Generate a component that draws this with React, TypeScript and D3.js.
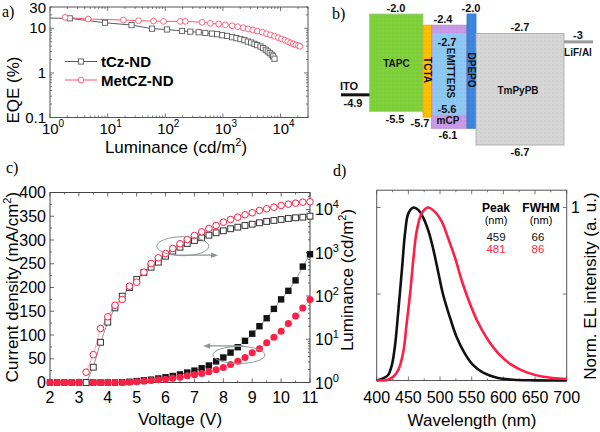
import React from 'react';
import * as d3 from 'd3';

const FONT = "'Liberation Sans', Arial, sans-serif";
const SERIF = "'Liberation Serif', 'Times New Roman', serif";

// ---------------- Panel a: EQE vs luminance ----------------
const tczLum = [0.8, 2.2, 9.0, 26, 59, 107, 195, 272, 380, 496, 647, 793, 969, 1183, 1445, 1718, 2016, 2365, 2700, 3093, 3530, 3935, 4490, 5000, 5550, 6010, 6510, 7060, 7470, 7870];
const tczEQE = [17.0, 16.7, 13.3, 11.8, 9.8, 9.4, 8.7, 8.4, 8.15, 7.85, 7.6, 7.36, 6.99, 6.74, 6.31, 6.0, 5.7, 5.41, 5.04, 4.79, 4.48, 4.19, 3.9, 3.59, 3.29, 3.02, 2.78, 2.55, 2.34, 2.08];
const metLum = [1.82, 4.6, 18.8, 34.3, 62.6, 93.3, 182, 223, 435, 606, 845, 1105, 1445, 1808, 2244, 2740, 3300, 3935, 4810, 5710, 6700, 7870, 9120, 10400, 11880, 13400, 14930, 16630, 18450, 20320, 21680];
const metEQE = [17.6, 16.1, 15.3, 14.8, 14.5, 14.3, 14.3, 14.3, 13.6, 12.9, 12.5, 12.0, 11.4, 10.9, 10.3, 9.65, 9.17, 8.7, 8.15, 7.59, 7.1, 6.64, 6.18, 5.78, 5.41, 5.04, 4.71, 4.45, 4.25, 4.1, 3.95];
const seriesNames = ['tCz-ND', 'MetCZ-ND'];
const eqeTickLabels = ['0.1', '1', '10', '30'];
const eqeTickValues = [0.1, 1, 10, 30];

// ---------------- Panel b: energy levels ----------------
const layerNames = ['TAPC', 'TCTA', 'mCP', 'EMITTERS', 'DPEPO', 'TmPyPB'];
const layerLUMO = [-2.0, -2.4, -2.4, -2.7, -2.0, -2.7];
const layerHOMO = [-5.5, -5.7, -6.1, -5.6, -6.1, -6.7];
const electrodeNames = ['ITO', 'LiF/Al'];
const electrodeLevels = [-4.9, -3.0];

// ---------------- Panel c: J-V-L ----------------
const voltJ = [2, 2.25, 2.5, 2.75, 3, 3.25, 3.5, 3.75, 4, 4.25, 4.5, 4.75, 5, 5.25, 5.5, 5.75, 6, 6.25, 6.5, 6.75, 7, 7.25, 7.5, 7.75, 8, 8.25, 8.5, 8.75, 9, 9.25, 9.5, 9.75, 10, 10.25, 10.5, 10.75, 11];
const tczJ = [0, 0, 0, 0, 0, 0, 0, 0, 0, 0, 0.5, 1.5, 3, 4.5, 6, 8.5, 11, 13.7, 17, 21, 25, 30, 35.8, 44.5, 52.7, 63, 74.3, 87.7, 102.7, 118.5, 135.3, 155, 175, 193, 215, 244, 270];
const metJ = [0, 0, 0, 0, 0, 0, 0, 0, 0, 0, 0, 0.5, 1.5, 2.8, 4.4, 5.7, 6.9, 9.1, 11.2, 14.1, 16.2, 18.9, 22.5, 26.7, 31.6, 37.9, 44.8, 52.6, 62.5, 70.9, 83.6, 95.4, 108, 124, 140, 157, 175];
const voltL = [3.25, 3.5, 3.75, 4, 4.25, 4.5, 4.75, 5, 5.25, 5.5, 5.75, 6, 6.25, 6.5, 6.75, 7, 7.25, 7.5, 7.75, 8, 8.25, 8.5, 8.75, 9, 9.25, 9.5, 9.75, 10, 10.25, 10.5, 10.75, 11];
const tczL = [1.0, 2.26, 8.5, 24.8, 53, 99, 157, 241, 349, 463, 605, 832, 1086, 1344, 1636, 1920, 2218, 2546, 2891, 3220, 3580, 3900, 4266, 4570, 4925, 5280, 5570, 5870, 6190, 6430, 6640, 7000];
const metL = [1.73, 4.4, 17.7, 33, 61, 83, 169, 208, 355, 564, 764, 961, 1254, 1610, 2025, 2505, 3050, 3637, 4266, 5085, 5870, 6640, 7540, 8390, 9480, 10380, 11300, 12370, 13270, 14000, 14760, 15070];
const jTicks = [0, 50, 100, 150, 200, 250, 300, 350, 400];
const vTicks = [2, 3, 4, 5, 6, 7, 8, 9, 10, 11];

// ---------------- Panel d: EL spectra ----------------
const tczWl = [400, 410, 418, 424, 429, 434, 440, 445, 450, 458, 466, 474, 482, 489, 497, 505, 516, 526, 539, 552, 568, 590, 616, 650, 700];
const tczEL = [0, 0.012, 0.032, 0.09, 0.205, 0.397, 0.648, 0.86, 0.966, 1.0, 0.985, 0.937, 0.86, 0.764, 0.629, 0.494, 0.36, 0.253, 0.157, 0.09, 0.045, 0.016, 0.004, 0.001, 0];
const metWl = [400, 416, 426, 434, 442, 447, 453, 458, 463, 471, 481, 492, 503, 513, 524, 534, 545, 558, 574, 592, 613, 637, 663, 700];
const metEL = [0, 0.003, 0.022, 0.06, 0.166, 0.32, 0.513, 0.706, 0.86, 0.966, 1.0, 0.975, 0.917, 0.82, 0.706, 0.581, 0.465, 0.35, 0.244, 0.157, 0.09, 0.047, 0.022, 0.009];
const wlTicks = [400, 450, 500, 550, 600, 650, 700];
const peakValues = ['459', '481'];
const fwhmValues = ['66', '86'];

const BLACK_A = '#5a5a5a';
const RED_A = '#ff5570';
const RED = '#ff1f45';

function logMinor(lo: number, hi: number) {
  const out: number[] = [];
  for (let d = Math.pow(10, Math.floor(Math.log10(lo))); d <= hi; d *= 10) {
    for (let k = 1; k <= 9; k++) {
      const v = k * d;
      if (v >= lo * 0.999 && v <= hi * 1.001) out.push(v);
    }
  }
  return out;
}

function PanelA() {
  const x = d3.scaleLog().domain([1, 30000]).range([50, 308]);
  const y = d3.scaleLog().domain([0.1, 30]).range([117.5, 7]);
  const line = d3.line<number[]>().x(d => x(d[0])).y(d => y(d[1]));
  const blk = tczLum.map((l, i) => [l, tczEQE[i]]);
  const red = metLum.map((l, i) => [l, metEQE[i]]);
  const xMin = logMinor(1, 30000);
  const yMin = logMinor(0.1, 30);
  const [x0, x1] = x.range();
  const [y0, y1] = y.range();
  return (
    <g fontFamily={FONT}>
      <defs>
        <clipPath id="clipA"><rect x={x0} y={y1} width={x1 - x0} height={y0 - y1} /></clipPath>
      </defs>
      {xMin.map((v, i) => {
        const major = Math.abs(Math.log10(v) - Math.round(Math.log10(v))) < 1e-6;
        const len = major ? 4 : 2;
        return (
          <g key={'xa' + i} stroke="#555" strokeWidth={0.8}>
            <line x1={x(v)} x2={x(v)} y1={y0} y2={y0 - len} />
            <line x1={x(v)} x2={x(v)} y1={y1} y2={y1 + len} />
          </g>
        );
      })}
      {yMin.map((v, i) => {
        const major = Math.abs(Math.log10(v) - Math.round(Math.log10(v))) < 1e-6;
        const len = major ? 4 : 2;
        return (
          <g key={'ya' + i} stroke="#555" strokeWidth={0.8}>
            <line x1={x0} x2={x0 + len} y1={y(v)} y2={y(v)} />
            <line x1={x1} x2={x1 - len} y1={y(v)} y2={y(v)} />
          </g>
        );
      })}
      <rect x={x0} y={y1} width={x1 - x0} height={y0 - y1} fill="none" stroke="#555" strokeWidth={1} />
      <g clipPath="url(#clipA)">
        <path d={line(blk) || ''} fill="none" stroke={BLACK_A} strokeWidth={1} />
        <path d={line(red) || ''} fill="none" stroke={RED_A} strokeWidth={1} />
        {blk.filter(d => d[0] >= 1).map((d, i) => (
          <rect key={'bs' + i} x={x(d[0]) - 2.6} y={y(d[1]) - 2.6} width={5.2} height={5.2} fill="white" stroke={BLACK_A} strokeWidth={0.9} />
        ))}
        {red.map((d, i) => (
          <circle key={'rc' + i} cx={x(d[0])} cy={y(d[1])} r={2.9} fill="white" stroke={RED_A} strokeWidth={0.9} />
        ))}
      </g>
      {/* legend */}
      <line x1={65} x2={97} y1={61.5} y2={61.5} stroke={BLACK_A} strokeWidth={1} />
      <rect x={81 - 2.6} y={61.5 - 2.6} width={5.2} height={5.2} fill="white" stroke={BLACK_A} strokeWidth={0.9} />
      <text x={101} y={67} fontSize={15} fontWeight="bold">{seriesNames[0]}</text>
      <line x1={65} x2={97} y1={80} y2={80} stroke={RED_A} strokeWidth={1} />
      <circle cx={81} cy={80} r={2.9} fill="white" stroke={RED_A} strokeWidth={0.9} />
      <text x={101} y={85.5} fontSize={15} fontWeight="bold">{seriesNames[1]}</text>
      {/* tick labels */}
      {eqeTickValues.map((v, i) => (
        <text key={'yl' + i} x={46} y={Math.max(y(v) + 5, 13)} fontSize={15} textAnchor="end">{eqeTickLabels[i]}</text>
      ))}
      {[0, 1, 2, 3, 4].map(e => (
        <text key={'xl' + e} x={x(Math.pow(10, e)) + 3} y={134} fontSize={15} textAnchor="middle">
          10<tspan dy={-7} fontSize={10}>{e}</tspan>
        </text>
      ))}
      <text x={176} y={153} fontSize={17} textAnchor="middle">
        Luminance (cd/m<tspan dy={-7} fontSize={11}>2</tspan><tspan dy={7}>)</tspan>
      </text>
      <text transform="translate(19,90) rotate(-90)" fontSize={17} textAnchor="middle">EQE (%)</text>
      <text x={2} y={17} fontSize={16} fontFamily={SERIF}>a)</text>
    </g>
  );
}

function PanelB() {
  const e = d3.scaleLinear().domain([-2.0, -6.7]).range([14, 145]);
  // horizontal layout of the stacked layers (pixel columns)
  const cols = [[369.5, 423], [423, 431.5], [431.5, 467], [433, 466], [467, 476], [476, 564]];
  const fills = ['#7fd13b', '#ffc000', '#c99ae8', '#8ec9f3', '#3d86e0', '#d6d6d6'];
  const strokes = ['#a9c9a0', '#e0a800', '#b58ad0', '#8ec9f3', '#2f6fc4', '#a6a6a6'];
  const ez = [[341, 369.5], [564, 593]];
  const nm = (i: number) => layerNames[i];
  const lbl = (v: number) => v.toFixed(1);
  return (
    <g fontFamily={FONT} fontWeight="bold">
      <defs>
        <pattern id="dots" width="4" height="4" patternUnits="userSpaceOnUse">
          <circle cx="1" cy="1" r="0.45" fill="rgba(0,0,0,0.18)" />
        </pattern>
      </defs>
      {cols.map((c, i) => (
        <g key={'L' + i}>
          <rect x={c[0]} y={e(layerLUMO[i])} width={c[1] - c[0]} height={e(layerHOMO[i]) - e(layerLUMO[i])} fill={fills[i]} stroke={strokes[i]} strokeWidth={0.8} />
          <rect x={c[0]} y={e(layerLUMO[i])} width={c[1] - c[0]} height={e(layerHOMO[i]) - e(layerLUMO[i])} fill="url(#dots)" />
        </g>
      ))}
      <line x1={ez[0][0]} x2={ez[0][1]} y1={e(electrodeLevels[0])} y2={e(electrodeLevels[0])} stroke="#111" strokeWidth={3} />
      <line x1={ez[1][0]} x2={ez[1][1]} y1={e(electrodeLevels[1])} y2={e(electrodeLevels[1])} stroke="#9a9a9a" strokeWidth={3} />
      <g fontSize={11} fill="#111" textAnchor="middle">
        <text x={396} y={e(layerLUMO[0]) - 2}>{lbl(layerLUMO[0])}</text>
        <text x={395} y={e(layerHOMO[0]) + 11}>{lbl(layerHOMO[0])}</text>
        <text x={443} y={e(layerLUMO[1]) - 2}>{lbl(layerLUMO[1])}</text>
        <text x={420} y={e(layerHOMO[1]) + 10}>{lbl(layerHOMO[1])}</text>
        <text x={447} y={e(layerLUMO[3]) + 12}>{lbl(layerLUMO[3])}</text>
        <text x={447} y={e(layerHOMO[3]) - 1}>{lbl(layerHOMO[3])}</text>
        <text x={448} y={e(layerHOMO[2]) + 11}>{lbl(layerHOMO[2])}</text>
        <text x={471} y={e(layerLUMO[4]) - 2}>{lbl(layerLUMO[4])}</text>
        <text x={520} y={e(layerLUMO[5]) - 3}>{lbl(layerLUMO[5])}</text>
        <text x={520} y={e(layerHOMO[5]) + 11}>{lbl(layerHOMO[5])}</text>
        <text x={353} y={e(electrodeLevels[0]) + 12}>{lbl(electrodeLevels[0])}</text>
        <text x={578} y={e(electrodeLevels[1]) - 3}>{String(electrodeLevels[1])}</text>
      </g>
      <g fontSize={10} fill="#111" textAnchor="middle">
        <text x={396.5} y={67}>{nm(0)}</text>
        <text x={448} y={e(layerHOMO[2]) - 4}>{nm(2)}</text>
        <text x={518} y={94}>{nm(5)}</text>
        <text x={349} y={e(electrodeLevels[0]) - 5} fontSize={11}>{electrodeNames[0]}</text>
        <text x={578} y={e(electrodeLevels[1]) + 14}>{electrodeNames[1]}</text>
        <text transform={`translate(${423.5},70) rotate(90)`}>{nm(1)}</text>
        <text transform={`translate(${446.5},73) rotate(90)`}>{nm(3)}</text>
        <text transform={`translate(${468},70) rotate(90)`}>{nm(4)}</text>
      </g>
      <text x={332} y={19} fontSize={16} fontFamily={SERIF} fontWeight="normal">b)</text>
    </g>
  );
}

function Arrow({ x1, x2, y }: { x1: number; x2: number; y: number }) {
  const dir = x2 > x1 ? 1 : -1;
  return (
    <g>
      <line x1={x1} x2={x2 - dir * 5} y1={y} y2={y} stroke="#8a9898" strokeWidth={1.3} />
      <path d={`M${x2},${y} L${x2 - dir * 7},${y - 2.8} L${x2 - dir * 7},${y + 2.8} Z`} fill="#8a9898" />
    </g>
  );
}

function PanelC() {
  const x = d3.scaleLinear().domain([2, 11]).range([50, 310]);
  const yJ = d3.scaleLinear().domain([0, 400]).range([382.5, 192.5]);
  const yL = d3.scaleLog().domain([1, 24700]).range([382.5, 192.5]);
  const [x0, x1] = x.range();
  const [y0, y1] = yJ.range();
  const lineJ = d3.line<number[]>().x(d => x(d[0])).y(d => yJ(d[1]));
  const lineL = d3.line<number[]>().x(d => x(d[0])).y(d => yL(d[1]));
  const bJ = voltJ.map((v, i) => [v, tczJ[i]]);
  const rJ = voltJ.map((v, i) => [v, metJ[i]]);
  const bL = voltL.map((v, i) => [v, tczL[i]]);
  const rL = voltL.map((v, i) => [v, metL[i]]);
  const vMinor: number[] = [];
  for (let v = 2; v <= 11.001; v += 0.5) vMinor.push(v);
  const jMinor: number[] = [];
  for (let j = 0; j <= 400; j += 25) jMinor.push(j);
  const lMinor = logMinor(1, 24000);
  return (
    <g fontFamily={FONT}>
      {vMinor.map((v, i) => {
        const len = Math.abs(v - Math.round(v)) < 1e-6 ? 4 : 2;
        return (
          <g key={'vc' + i} stroke="#444" strokeWidth={0.8}>
            <line x1={x(v)} x2={x(v)} y1={y0} y2={y0 - len} />
            <line x1={x(v)} x2={x(v)} y1={y1} y2={y1 + len} />
          </g>
        );
      })}
      {jMinor.map((j, i) => (
        <line key={'jc' + i} x1={x0} x2={x0 + (j % 50 === 0 ? 4 : 2)} y1={yJ(j)} y2={yJ(j)} stroke="#444" strokeWidth={0.8} />
      ))}
      {lMinor.map((l, i) => {
        const major = Math.abs(Math.log10(l) - Math.round(Math.log10(l))) < 1e-6;
        return <line key={'lc' + i} x1={x1} x2={x1 - (major ? 4 : 2)} y1={yL(l)} y2={yL(l)} stroke="#444" strokeWidth={0.8} />;
      })}
      <rect x={x0} y={y1} width={x1 - x0} height={y0 - y1} fill="none" stroke="#444" strokeWidth={1} />
      {/* filled: current density */}
      <path d={lineJ(bJ) || ''} fill="none" stroke="#888" strokeWidth={0.8} />
      <path d={lineJ(rJ) || ''} fill="none" stroke="#ff8a9c" strokeWidth={0.8} />
      {bJ.map((d, i) => (
        <rect key={'bj' + i} x={x(d[0]) - 3.2} y={yJ(d[1]) - 3.2} width={6.4} height={6.4} fill="#141414" />
      ))}
      {rJ.map((d, i) => (
        <circle key={'rj' + i} cx={x(d[0])} cy={yJ(d[1])} r={3.5} fill={RED} />
      ))}
      {/* hollow: luminance */}
      <path d={lineL(bL) || ''} fill="none" stroke="#777" strokeWidth={0.8} />
      <path d={lineL(rL) || ''} fill="none" stroke="#ff8a9c" strokeWidth={0.8} />
      {bL.map((d, i) => (
        <rect key={'bl' + i} x={x(d[0]) - 2.9} y={yL(d[1]) - 2.9} width={5.8} height={5.8} fill="white" stroke="#333" strokeWidth={1} />
      ))}
      {rL.map((d, i) => (
        <circle key={'rl' + i} cx={x(d[0])} cy={yL(d[1])} r={3.3} fill="white" stroke={RED} strokeWidth={1} />
      ))}
      {/* annotations */}
      <ellipse cx={x(6.6)} cy={yJ(287)} rx={26} ry={9.5} fill="none" stroke="#8a9898" strokeWidth={1} />
      <Arrow x1={x(6.37)} x2={x(7.82)} y={yJ(268)} />
      <ellipse cx={x(8.54)} cy={yJ(58)} rx={26} ry={8.5} fill="none" stroke="#8a9898" strokeWidth={1} />
      <Arrow x1={x(8.7)} x2={x(7.3)} y={yJ(77)} />
      {/* tick labels */}
      {jTicks.map((j, i) => (
        <text key={'jl' + i} x={46} y={yJ(j) + 5.5} fontSize={16} textAnchor="end">{j}</text>
      ))}
      {vTicks.map((v, i) => (
        <text key={'vl' + i} x={x(v)} y={403} fontSize={16} textAnchor="middle">{v}</text>
      ))}
      {[0, 1, 2, 3, 4].map(e => (
        <text key={'ll' + e} x={315} y={yL(Math.pow(10, e)) + 6} fontSize={16}>
          10<tspan dy={-7} fontSize={11}>{e}</tspan>
        </text>
      ))}
      <text x={180} y={425} fontSize={17} textAnchor="middle">Voltage (V)</text>
      <text transform="translate(18,287) rotate(-90)" fontSize={17} textAnchor="middle">
        Current density (mA/cm<tspan dy={-7} fontSize={11}>2</tspan><tspan dy={7}>)</tspan>
      </text>
      <text transform="translate(353,280) rotate(-90)" fontSize={17} textAnchor="middle">
        Luminance (cd/m<tspan dy={-7} fontSize={11}>2</tspan><tspan dy={7}>)</tspan>
      </text>
      <text x={6} y={173} fontSize={16} fontFamily={SERIF}>c)</text>
    </g>
  );
}

function PanelD() {
  const x = d3.scaleLinear().domain([400, 700]).range([376.7, 566.7]);
  const y = d3.scaleLinear().domain([0, 1.1]).range([380.5, 190.2]);
  const [x0, x1] = x.range();
  const [y0, y1] = y.range();
  const line = d3.line<number[]>().x(d => x(d[0])).y(d => y(d[1])).curve(d3.curveCatmullRom.alpha(0.5));
  const b = tczWl.map((w, i) => [w, tczEL[i]]);
  const r = metWl.map((w, i) => [w, metEL[i]]);
  const wMinor: number[] = [];
  for (let w = 400; w <= 700; w += 25) wMinor.push(w);
  return (
    <g fontFamily={FONT}>
      {wMinor.map((w, i) => {
        const len = w % 50 === 0 ? 4 : 2;
        return (
          <g key={'wd' + i} stroke="#555" strokeWidth={0.8}>
            <line x1={x(w)} x2={x(w)} y1={y0} y2={y0 - len} />
            <line x1={x(w)} x2={x(w)} y1={y1} y2={y1 + len} />
          </g>
        );
      })}
      {[0, 0.5, 1].map((v, i) => (
        <g key={'yd' + i} stroke="#555" strokeWidth={0.8}>
          <line x1={x0} x2={x0 + 4} y1={y(v)} y2={y(v)} />
          <line x1={x1} x2={x1 - 4} y1={y(v)} y2={y(v)} />
        </g>
      ))}
      <rect x={x0} y={y1} width={x1 - x0} height={y0 - y1} fill="none" stroke="#555" strokeWidth={1} />
      <path d={line(b) || ''} fill="none" stroke="#111" strokeWidth={2.6} />
      <path d={line(r) || ''} fill="none" stroke={RED} strokeWidth={2.6} />
      <g textAnchor="middle">
        <text x={496} y={212} fontSize={12} fontWeight="bold">Peak</text>
        <text x={541} y={212} fontSize={12} fontWeight="bold">FWHM</text>
        <text x={496} y={224} fontSize={11}>(nm)</text>
        <text x={541} y={224} fontSize={11}>(nm)</text>
        <text x={496} y={240.5} fontSize={11.5} fill="#111">{peakValues[0]}</text>
        <text x={538} y={240.5} fontSize={11.5} fill="#111">{fwhmValues[0]}</text>
        <text x={496} y={252.5} fontSize={11.5} fill={RED}>{peakValues[1]}</text>
        <text x={538} y={252.5} fontSize={11.5} fill={RED}>{fwhmValues[1]}</text>
      </g>
      {wlTicks.map((w, i) => (
        <text key={'wl' + i} x={x(w)} y={403} fontSize={16} textAnchor="middle">{w}</text>
      ))}
      <text x={571} y={y(1) + 5.5} fontSize={16}>1</text>
      <text x={472} y={426} fontSize={17} textAnchor="middle">Wavelength (nm)</text>
      <text transform="translate(596,286) rotate(-90)" fontSize={17} textAnchor="middle">Norm. EL intensity (a. u.)</text>
      <text x={333} y={176} fontSize={16} fontFamily={SERIF}>d)</text>
    </g>
  );
}

export default function App() {
  return (
    <svg width={600} height={432} viewBox="0 0 600 432" style={{ position: 'absolute', left: 0, top: 0, background: 'white' }}>
      <rect x={0} y={0} width={600} height={432} fill="white" />
      <PanelA />
      <PanelB />
      <PanelC />
      <PanelD />
    </svg>
  );
}
